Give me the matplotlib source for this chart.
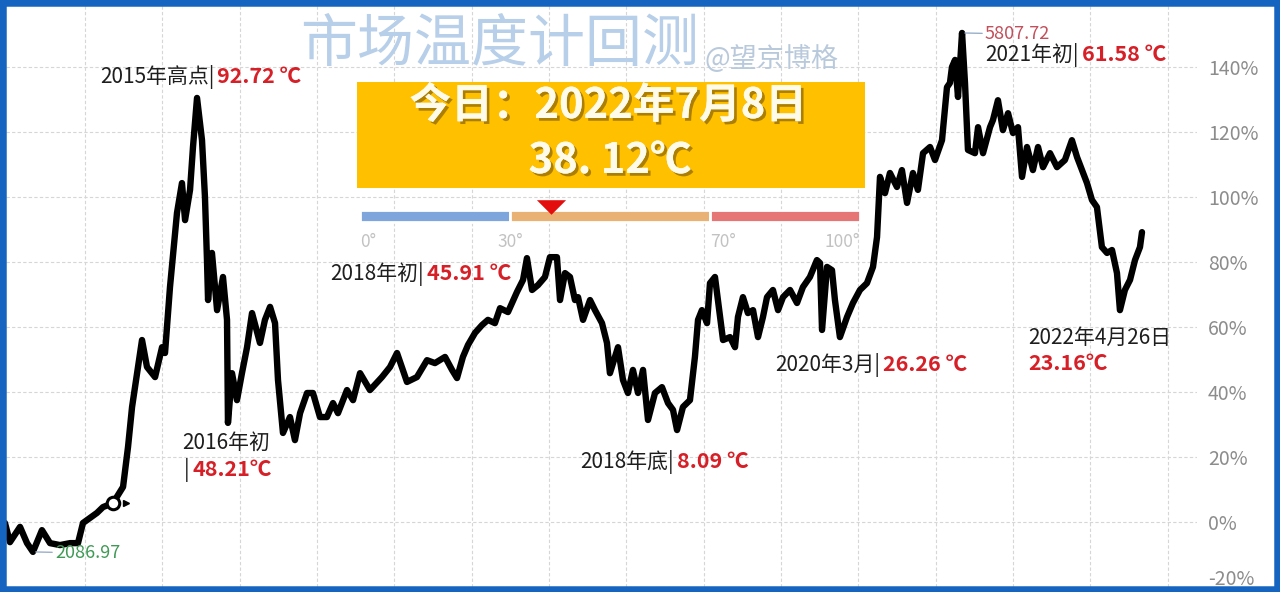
import matplotlib
matplotlib.use("Agg")
import matplotlib.pyplot as plt
import matplotlib.patheffects as pe
import numpy as np
from matplotlib.patches import Rectangle
from matplotlib.transforms import ScaledTranslation

plt.rcParams["font.family"] = ["Noto Sans CJK SC", "DejaVu Sans"]

W, H = 1280, 592
RED = "#d61f26"
INK = "#1e1e1e"

# backtest curve (decimal year, cumulative return %)
t_year = [
    2014.022, 2014.059, 2014.134, 2014.186, 2014.230, 2014.297, 2014.357, 2014.431, 2014.506, 2014.565,
    2014.602, 2014.706, 2014.751, 2014.825, 2014.900, 2014.937, 2014.967, 2015.004, 2015.041, 2015.078,
    2015.138, 2015.190, 2015.212, 2015.249, 2015.301, 2015.338, 2015.361, 2015.398, 2015.420, 2015.450,
    2015.487, 2015.509, 2015.524, 2015.532, 2015.561, 2015.599, 2015.643, 2015.673, 2015.680, 2015.710,
    2015.747, 2015.784, 2015.822, 2015.859, 2015.918, 2015.955, 2015.993, 2016.030, 2016.052, 2016.089,
    2016.141, 2016.178, 2016.216, 2016.268, 2016.312, 2016.364, 2016.416, 2016.461, 2016.498, 2016.565,
    2016.610, 2016.662, 2016.736, 2016.825, 2016.885, 2016.937, 2017.011, 2017.085, 2017.160, 2017.219,
    2017.294, 2017.346, 2017.383, 2017.427, 2017.465, 2017.517, 2017.569, 2017.613, 2017.665, 2017.703,
    2017.762, 2017.829, 2017.874, 2017.903, 2017.941, 2017.985, 2018.037, 2018.074, 2018.126, 2018.149,
    2018.186, 2018.223, 2018.260, 2018.283, 2018.320, 2018.372, 2018.409, 2018.461, 2018.498, 2018.520,
    2018.580, 2018.617, 2018.654, 2018.691, 2018.729, 2018.766, 2018.803, 2018.855, 2018.907, 2018.952,
    2018.989, 2019.019, 2019.063, 2019.115, 2019.152, 2019.175, 2019.204, 2019.242, 2019.264, 2019.301,
    2019.323, 2019.361, 2019.413, 2019.450, 2019.472, 2019.509, 2019.546, 2019.584, 2019.621, 2019.658,
    2019.688, 2019.732, 2019.770, 2019.807, 2019.859, 2019.911, 2019.955, 2020.007, 2020.059, 2020.082,
    2020.097, 2020.134, 2020.171, 2020.193, 2020.230, 2020.283, 2020.327, 2020.379, 2020.431, 2020.476,
    2020.506, 2020.528, 2020.565, 2020.602, 2020.654, 2020.691, 2020.729, 2020.773, 2020.810, 2020.848,
    2020.900, 2020.937, 2020.989, 2021.026, 2021.048, 2021.063, 2021.086, 2021.108, 2021.138, 2021.160,
    2021.182, 2021.234, 2021.257, 2021.294, 2021.346, 2021.368, 2021.405, 2021.442, 2021.480, 2021.517,
    2021.554, 2021.584, 2021.621, 2021.665, 2021.703, 2021.740, 2021.792, 2021.844, 2021.903, 2021.955,
    2021.993, 2022.030, 2022.067, 2022.104, 2022.141, 2022.178, 2022.216, 2022.253, 2022.290, 2022.312,
    2022.349, 2022.387, 2022.424, 2022.461, 2022.476,
]
pct = [
    -0.3, -6.2, -1.5, -6.5, -9.2, -2.5, -6.5, -7.1, -6.5, -6.5,
    -0.3, 2.8, 4.6, 5.8, 10.8, 23.1, 35.4, 45.8, 56.0, 47.7,
    44.6, 53.8, 52.0, 72.3, 95.1, 104.3, 92.9, 102.2, 115.4, 130.5,
    117.5, 100.0, 80.6, 68.3, 82.8, 65.2, 75.4, 62.2, 30.5, 45.8,
    37.5, 45.8, 53.8, 64.3, 55.1, 62.2, 66.2, 61.2, 43.7, 27.4,
    32.3, 25.2, 33.5, 39.7, 39.7, 32.3, 32.3, 36.6, 33.5, 40.6,
    37.5, 45.8, 40.6, 44.6, 47.7, 52.0, 43.1, 44.6, 49.8, 48.9,
    50.8, 46.8, 44.3, 50.8, 54.5, 58.2, 60.6, 62.2, 61.2, 65.8,
    64.6, 70.8, 74.5, 81.2, 71.4, 72.9, 75.4, 81.5, 81.5, 68.3,
    76.6, 75.4, 68.3, 69.2, 62.2, 68.3, 65.2, 61.2, 55.1, 45.8,
    53.8, 43.7, 39.7, 46.8, 39.7, 46.8, 31.4, 39.7, 41.5, 36.6,
    34.5, 28.3, 35.4, 37.5, 50.8, 62.2, 65.2, 61.2, 73.5, 75.4,
    68.3, 56.0, 56.9, 53.8, 63.1, 69.2, 64.3, 65.2, 56.9, 63.1,
    69.2, 71.4, 65.2, 69.2, 71.4, 67.4, 72.3, 75.4, 80.6, 79.7,
    59.1, 78.5, 77.5, 68.3, 56.9, 63.1, 67.4, 71.4, 73.5, 78.5,
    87.7, 106.2, 101.2, 107.4, 103.1, 108.3, 98.2, 107.4, 102.2, 113.5,
    115.4, 111.4, 117.5, 133.8, 135.1, 140.0, 142.2, 130.8, 150.5, 135.1,
    114.5, 113.5, 121.5, 113.5, 121.5, 123.7, 129.8, 120.6, 125.8, 119.7,
    121.5, 106.2, 115.4, 108.3, 115.4, 109.2, 113.5, 109.2, 111.4, 117.5,
    112.3, 108.3, 104.3, 99.1, 96.9, 84.6, 82.8, 83.7, 76.6, 65.2,
    71.4, 74.5, 80.6, 84.6, 89.2,
]

y_ticks = [-20, 0, 20, 40, 60, 80, 100, 120, 140]
y_tick_labels = [f"{v}%" for v in y_ticks]

low_2014 = (2014.230, -9.2)
low_2014_label = "2086.97"
peak_2021 = (2021.138, 150.5)
peak_2021_label = "5807.72"
handle_point = (2014.825, 5.8)

gauge_bounds = [0, 30, 70, 100]
gauge_colors = ["#7ea6dc", "#e9b274", "#e67676"]
gauge_labels = ["0°", "30°", "70°", "100°"]
today_temp = 38.12
today_line1 = "今日：2022年7月8日"
today_line2 = "38. 12℃"

# (black part, red part, left px, baseline px)
events = [
    ("2015年高点|", "92.72 ℃", 100, 83),
    ("2018年初|", "45.91 ℃", 330, 280),
    ("2018年底|", "8.09 ℃", 580, 468),
    ("2020年3月|", "26.26 ℃", 775, 371),
    ("2021年初|", "61.58 ℃", 985, 61),
    ("|", "48.21℃", 184, 476),
]


def px(x, y):
    return x / W, 1 - y / H


fig = plt.figure(figsize=(W / 100, H / 100), dpi=100)
fig.patch.set_facecolor("white")

ax = fig.add_axes([6 / W, 5 / H, 1191 / W, 582 / H])
ax.plot(t_year, pct, color="black", lw=4.6, solid_joinstyle="round",
        solid_capstyle="round", zorder=3)
ax.set_xlim(2014.0297, 2022.885)
ax.set_ylim(-20, 159.1)

ax.set_yticks(y_ticks)
ax.set_yticklabels(y_tick_labels)
ax.yaxis.tick_right()
ax.tick_params(axis="y", length=0, pad=8, labelsize=14, labelcolor="#8c8c8c")
ax.set_xticks(np.arange(2014.617, 2022.9, 0.575))
ax.tick_params(axis="x", length=0, labelbottom=False)
ax.grid(True, color="#d6d6d6", lw=0.8, ls=(0, (3, 2)))
for side in ax.spines.values():
    side.set_visible(False)
bottom_tick = ax.yaxis.get_major_ticks()[0]
bottom_tick.label2.set_transform(
    bottom_tick.label2.get_transform() + ScaledTranslation(0, 0.1, fig.dpi_scale_trans))

# start-of-backtest handle
ax.plot(*handle_point, "o", ms=9, mfc="white", mec="black", mew=2.2, zorder=4)
ax.plot(*handle_point, ">", ms=5, color="black", zorder=4,
        transform=ax.transData + ScaledTranslation(0.13, 0, fig.dpi_scale_trans))

ax.annotate(low_2014_label, xy=low_2014, xytext=(55, H - 553), textcoords="figure pixels",
            va="center", ha="left", fontsize=13, color="#3f9a55",
            arrowprops=dict(arrowstyle="-", color="#8fa6c4", lw=0.9, shrinkA=0, shrinkB=2))
ax.annotate(peak_2021_label, xy=peak_2021, xytext=(985, H - 34), textcoords="figure pixels",
            va="center", ha="left", fontsize=13, color="#c2505c",
            arrowprops=dict(arrowstyle="-", color="#8fa6c4", lw=0.9, shrinkA=0, shrinkB=2))

renderer = fig.canvas.get_renderer()


def two_tone(black, red, x, y, size=15):
    t = fig.text(*px(x, y), black, color=INK, fontsize=size, va="baseline", zorder=6)
    bb = t.get_window_extent(renderer)
    fig.text((bb.x1 + 3) / W, 1 - y / H, red, color=RED, fontsize=size + 0.5,
             fontweight="bold", va="baseline", zorder=6)


for black, red, x, y in events:
    two_tone(black, red, x, y)

fig.text(*px(182, 449), "2016年初", color=INK, fontsize=15, va="baseline", zorder=6)
fig.text(*px(1028, 344), "2022年4月26日", color=INK, fontsize=15, va="baseline", zorder=6)
fig.text(*px(1028, 370), "23.16℃", color=RED, fontsize=15.5, fontweight="bold",
         va="baseline", zorder=6)

# title and watermark
fig.text(*px(500, 45), "市场温度计回测", fontsize=41, color="#b7cfe8",
         ha="center", va="center", zorder=6)
fig.text(*px(705, 59), "@望京博格", fontsize=19.5, color="#b9c9dc",
         ha="left", va="center", zorder=6)

# today's reading box
fig.add_artist(Rectangle(px(357, 188), 508 / W, 106 / H, transform=fig.transFigure,
                         fc="#ffc000", ec="none", zorder=5))
shadow = [pe.withSimplePatchShadow(offset=(2, -2), shadow_rgbFace="#8a6400", alpha=0.7),
          pe.Normal()]
fig.text(*px(608, 106), today_line1, fontsize=30, fontweight="bold", color="#fffbea",
         ha="center", va="center", zorder=6, path_effects=shadow)
fig.text(*px(610, 161), today_line2, fontsize=30, fontweight="bold", color="#fffbea",
         ha="center", va="center", zorder=6, path_effects=shadow)

# temperature gauge
gax = fig.add_axes([360 / W, 1 - 250 / H, 500 / W, 55 / H])
gax.set_xlim(0, 100)
gax.set_ylim(55, 0)
gax.axis("off")
starts = gauge_bounds[:-1]
widths = np.diff(gauge_bounds)
gax.barh(21, widths, left=starts, height=12, color=gauge_colors,
         edgecolor="white", linewidth=2)
label_align = ["left", "center", "left", "right"]
for value, text, ha in zip(gauge_bounds, gauge_labels, label_align):
    gax.text(value, 47, text, ha=ha, va="center", fontsize=12.5, color="#c2c2c2")
gax.plot(today_temp, 11.5, marker=[(-1, 0.5), (1, 0.5), (0, -0.5)], ms=21,
         color="#e30d0d", mec="none")

fig.add_artist(Rectangle((0, 0), 1, 1, transform=fig.transFigure, fill=False,
                         ec="#1565c0", lw=9, zorder=20))

fig.savefig("out.png", dpi=100)
plt.close(fig)
